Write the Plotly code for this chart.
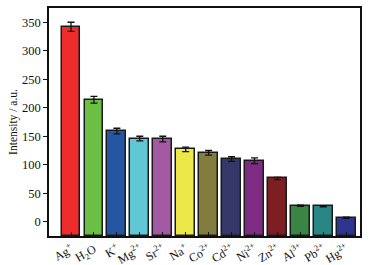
import plotly.graph_objects as go

ions = ["Ag<sup>+</sup>", "H<sub>2</sub>O", "K<sup>+</sup>", "Mg<sup>2+</sup>", "Sr<sup>2+</sup>",
        "Na<sup>+</sup>", "Co<sup>2+</sup>", "Cd<sup>2+</sup>", "Ni<sup>2+</sup>", "Zn<sup>2+</sup>",
        "Al<sup>3+</sup>", "Pb<sup>2+</sup>", "Hg<sup>2+</sup>"]
intensity = [342, 214, 159, 146, 145, 127, 121, 110, 107, 76, 28, 27, 7]
errors = [8, 6, 5, 4, 5, 4, 4, 4, 5, 2, 1, 1, 1]
colors = ["#ee2c2c", "#6cbf45", "#2456a4", "#5fc8d4", "#a35aa3", "#ece84a", "#827d3e",
          "#353768", "#7e2b83", "#7d1e22", "#3a8544", "#2a8585", "#2e3590"]
y_ticks = [0, 50, 100, 150, 200, 250, 300, 350]

y_min, y_max = -25, 375
x = list(range(len(ions)))

fig = go.Figure(go.Bar(
    x=x,
    y=[v - y_min for v in intensity],
    base=y_min,
    width=0.82,
    marker=dict(color=colors, line=dict(color="#1a1a1a", width=1.5)),
    error_y=dict(type="data", array=errors, color="#111111", thickness=1.3, width=3.5),
))

fig.update_layout(
    width=373, height=265,
    margin=dict(l=49, r=13, t=8, b=29),
    plot_bgcolor="white", paper_bgcolor="white",
    font=dict(family="Liberation Serif", color="#111111", size=12),
    showlegend=False,
    bargap=0,
)
fig.update_xaxes(
    range=[-0.96, 12.6], tickmode="array", tickvals=x, ticktext=ions,
    tickangle=-30, ticks="inside", ticklen=4, tickwidth=1, tickcolor="#111111",
    showline=True, linecolor="#111111", linewidth=1.5, mirror=True, showgrid=False,
    tickfont=dict(size=12), zeroline=False, automargin=False,
)
fig.update_yaxes(
    range=[y_min, y_max], tickmode="array", tickvals=y_ticks,
    ticks="outside", ticklen=4, tickwidth=1, tickcolor="#111111",
    showline=True, linecolor="#111111", linewidth=1.5, mirror=True, showgrid=False,
    zeroline=False, tickfont=dict(size=12.5), automargin=False,
    title=dict(text="Intensity / a.u.", font=dict(size=11.5), standoff=2),
)

fig.write_html("out.html", config={"displayModeBar": False},
               post_script="document.body.style.margin='0px';")
